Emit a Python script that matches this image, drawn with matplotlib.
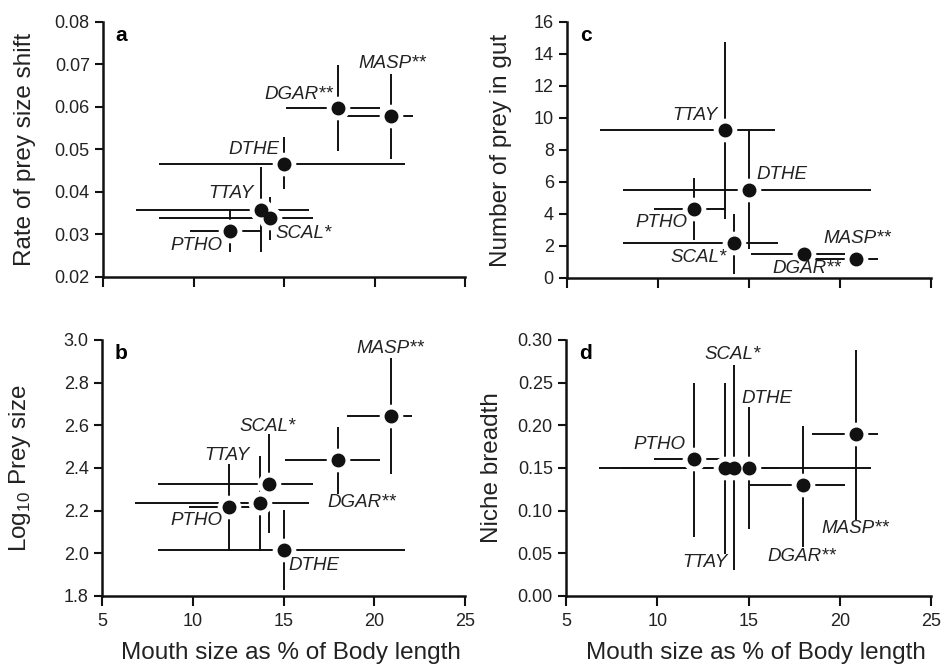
import matplotlib.pyplot as plt
import numpy as np

plt.rcParams['font.family'] = ['Liberation Sans', 'DejaVu Sans']
plt.rcParams['mathtext.fontset'] = 'custom'
plt.rcParams['mathtext.rm'] = 'Liberation Sans'

species = ["PTHO", "TTAY", "SCAL", "DTHE", "DGAR", "MASP"]
names = ["PTHO", "TTAY", "SCAL*", "DTHE", "DGAR**", "MASP**"]

# mouth size (% of body length), same for all panels
mouth = [12.0, 13.7, 14.2, 15.0, 18.0, 20.9]
mouth_lo = [9.8, 6.8, 8.1, 8.1, 15.1, 18.5]
mouth_hi = [13.7, 16.4, 16.6, 21.7, 20.3, 22.1]

# a: rate of prey size shift
rate = [0.0307, 0.0358, 0.0339, 0.0466, 0.0597, 0.0579]
rate_lo = [0.0258, 0.0258, 0.0286, 0.0407, 0.0497, 0.0477]
rate_hi = [0.0357, 0.0458, 0.0388, 0.0530, 0.0698, 0.0677]

# b: log10 prey size
psize = [2.218, 2.238, 2.323, 2.014, 2.437, 2.644]
psize_lo = [2.01, 2.01, 2.096, 1.83, 2.28, 2.374]
psize_hi = [2.418, 2.457, 2.559, 2.202, 2.59, 2.914]

# c: number of prey in gut
nprey = [4.33, 9.23, 2.21, 5.48, 1.48, 1.21]
nprey_lo = [2.4, 3.71, 0.27, 1.83, 1.48, 1.21]
nprey_hi = [6.25, 14.75, 4.02, 9.17, 1.48, 1.21]

# d: niche breadth
niche = [0.160, 0.150, 0.150, 0.150, 0.1295, 0.190]
niche_lo = [0.069, 0.0487, 0.030, 0.0788, 0.0573, 0.0885]
niche_hi = [0.2496, 0.2496, 0.2707, 0.221, 0.1997, 0.2886]

# label anchors (left edge, vertical centre) per panel
lab_a = [(8.75, 0.0274), (10.8, 0.0397), (14.5, 0.0303), (11.9, 0.050), (13.9, 0.063), (19.1, 0.0702)]
lab_b = [(8.77, 2.152), (10.64, 2.46), (12.6, 2.596), (15.29, 1.944), (17.4, 2.236), (19.03, 2.958)]
lab_c = [(8.77, 3.44), (10.79, 10.17), (10.7, 1.31), (15.39, 6.48), (16.3, 0.58), (19.06, 2.46)]
lab_d = [(8.71, 0.1775), (11.38, 0.039), (12.57, 0.2828), (14.63, 0.2309), (16.01, 0.0468), (19.0, 0.0788)]

fig = plt.figure(figsize=(9.41, 6.65), dpi=100)
ax_a = fig.add_axes([0.1095, 0.5835, 0.3847, 0.3835])
ax_c = fig.add_axes([0.6026, 0.5820, 0.3868, 0.3850])
ax_b = fig.add_axes([0.1084, 0.1038, 0.3858, 0.3850])
ax_d = fig.add_axes([0.6015, 0.1038, 0.3879, 0.3850])


def panel(ax, y, ylo, yhi, labels, ylim, yticks, yfmt, ylabel, letter, xlab):
    x = np.array(mouth)
    y = np.array(y)
    xerr = [x - np.array(mouth_lo), np.array(mouth_hi) - x]
    yerr = [y - np.array(ylo), np.array(yhi) - y]
    ax.errorbar(x, y, xerr=xerr, yerr=yerr, fmt='none', ecolor='#111111',
                elinewidth=1.4, capsize=0, zorder=2)
    # white halo leaves the small gap around each point
    ax.plot(x, y, 'o', color='white', markersize=16, zorder=3)
    ax.plot(x, y, 'o', color='#111111', markersize=9, zorder=4)
    for (lx, ly), nm in zip(labels, names):
        ax.text(lx, ly, nm, style='italic', fontsize=13.5, ha='left', va='center',
                color='#222222', zorder=5)
    ax.set_xlim(5, 25)
    ax.set_ylim(*ylim)
    ax.set_xticks([5, 10, 15, 20, 25])
    ax.set_yticks(yticks)
    ax.set_yticklabels([yfmt.format(t) for t in yticks])
    if not xlab:
        ax.set_xticklabels([])
    else:
        ax.set_xlabel("Mouth size as % of Body length", fontsize=17.5, color='#222222')
        ax.xaxis.set_label_coords(0.52, -0.178)
    for s in ['top', 'right']:
        ax.spines[s].set_visible(False)
    for s in ['left', 'bottom']:
        ax.spines[s].set_linewidth(1.8)
        ax.spines[s].set_color('#111111')
    ax.tick_params(direction='out', length=6, width=1.5, labelsize=13,
                   color='#111111', labelcolor='#222222')
    ax.tick_params(axis='x', length=7, pad=5)
    ax.set_ylabel(ylabel, fontsize=17.5, color='#222222')
    ax.text(0.035, 0.985, letter, transform=ax.transAxes, fontsize=15,
            fontweight='bold', ha='left', va='top')


panel(ax_a, rate, rate_lo, rate_hi, lab_a, (0.02, 0.08),
      [0.02, 0.03, 0.04, 0.05, 0.06, 0.07, 0.08], "{:.2f}",
      "Rate of prey size shift", "a", False)
ax_a.yaxis.set_label_coords(-0.185, 0.5)

panel(ax_c, nprey, nprey_lo, nprey_hi, lab_c, (0, 16),
      [0, 2, 4, 6, 8, 10, 12, 14, 16], "{:.0f}",
      "Number of prey in gut", "c", False)
ax_c.yaxis.set_label_coords(-0.151, 0.5)

panel(ax_b, psize, psize_lo, psize_hi, lab_b, (1.8, 3.0),
      [1.8, 2.0, 2.2, 2.4, 2.6, 2.8, 3.0], "{:.1f}",
      "Log$_{\\mathrm{10}}$ Prey size", "b", True)
ax_b.yaxis.set_label_coords(-0.19, 0.5)

panel(ax_d, niche, niche_lo, niche_hi, lab_d, (0.0, 0.30),
      [0.0, 0.05, 0.10, 0.15, 0.20, 0.25, 0.30], "{:.2f}",
      "Niche breadth", "d", True)
ax_d.yaxis.set_label_coords(-0.173, 0.5)

fig.savefig("out.png", dpi=100)
